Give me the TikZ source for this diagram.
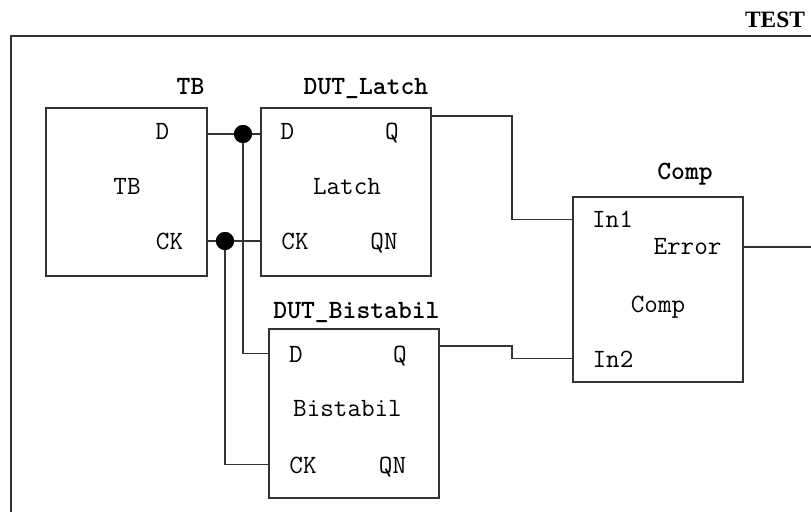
\documentclass[tikz,border=0pt]{standalone}
\usepackage{fontspec}
\setmainfont{Liberation Serif}
\usepackage{tikz}
\usetikzlibrary{positioning,calc}

\begin{document}
\begin{tikzpicture}[
    x=0.03cm, y=-0.03cm,
    blk/.style={rectangle, draw=black!80, line width=0.9pt, inner sep=0pt, outer sep=0pt},
    frm/.style={rectangle, draw=black!80, line width=1.3pt, inner sep=0pt, outer sep=0pt,
                minimum width=24.87cm, minimum height=15.12cm},
    pin/.style={font=\ttfamily\fontsize{22.5}{26}\selectfont, inner sep=0pt, anchor=base},
    ttl/.style={font=\ttfamily\bfseries\fontsize{22.5}{26}\selectfont, inner sep=0pt, anchor=base},
    hdr/.style={font=\bfseries\fontsize{20}{24}\selectfont, inner sep=0pt, anchor=base},
    wire/.style={draw=black!80, line width=0.9pt},
    dot/.style={circle, fill=black, inner sep=0pt, minimum size=0.54cm},
  ]

  \clip (0,0) rectangle (811,512);

  %% ===== FRAME =====
  \node[frm] (test) at (425.5,288) {};
  \node[hdr] (testlbl) at (775,28) {TEST};

  %% ===== BLOCKS =====
  %% TB
  \node[blk, minimum width=4.83cm, minimum height=5.04cm] (tb) at (126.5,192) {};
  \node[ttl] (tbT)  at (190.5,95)  {TB};
  \node[pin] (tbD)  at (162.5,139.5) {D};
  \node[pin] (tbN)  at (127,195)   {TB};
  \node[pin] (tbCK) at (169.5,250) {CK};

  %% DUT_Latch
  \node[blk, minimum width=5.1cm, minimum height=5.04cm] (lt) at (346,192) {};
  \node[ttl] (ltT)  at (366,95)    {DUT\_Latch};
  \node[pin] (ltD)  at (287.5,139.5) {D};
  \node[pin] (ltQ)  at (392,139.5) {Q};
  \node[pin] (ltN)  at (347,195)   {Latch};
  \node[pin] (ltCK) at (295,250)   {CK};
  \node[pin] (ltQN) at (384,250)   {QN};

  %% DUT_Bistabil
  \node[blk, minimum width=5.1cm, minimum height=5.07cm] (bi) at (354,413.5) {};
  \node[ttl] (biT)  at (356.5,318) {DUT\_Bistabil};
  \node[pin] (biD)  at (296,362)   {D};
  \node[pin] (biQ)  at (400,362)   {Q};
  \node[pin] (biN)  at (347.5,416.5) {Bistabil};
  \node[pin] (biCK) at (303,473)   {CK};
  \node[pin] (biQN) at (392.5,473) {QN};

  %% Comp
  \node[blk, minimum width=5.1cm, minimum height=5.55cm] (cmp) at (658,289.5) {};
  \node[ttl] (cmpT)   at (685,180)   {Comp};
  \node[pin] (cmpIn1) at (612.5,228) {In1};
  \node[pin] (cmpErr) at (687.5,255) {Error};
  \node[pin] (cmpN)   at (658,312)   {Comp};
  \node[pin] (cmpIn2) at (613,367)   {In2};

  %% ===== WIRES =====
  \node[dot] (dD)  at (243,134) {};
  \node[dot] (dCK) at (225,241) {};

  %% TB -> Latch
  \draw[wire] (tb.east |- dD) -- (lt.west |- dD);
  \draw[wire] (tb.east |- dCK) -- (lt.west |- dCK);

  %% branches down to Bistabil
  \draw[wire] (dD) |- (bi.west |- biD);
  \draw[wire] (dCK) |- (bi.west |- biCK);

  %% Q outputs -> Comp
  \draw[wire] ([yshift=-0.24cm]lt.north east) -- ++(81,0) |- (cmp.west |- cmpIn1);
  \draw[wire] ([yshift=-0.51cm]bi.north east) -- ++(73,0) |- (cmp.west |- cmpIn2);

  %% Error out
  \draw[wire] (cmp.east |- cmpErr) -- (test.east |- cmpErr);

  %% dots on top
  \fill (dD) circle (9);
  \fill (dCK) circle (9);

\end{tikzpicture}
\end{document}
